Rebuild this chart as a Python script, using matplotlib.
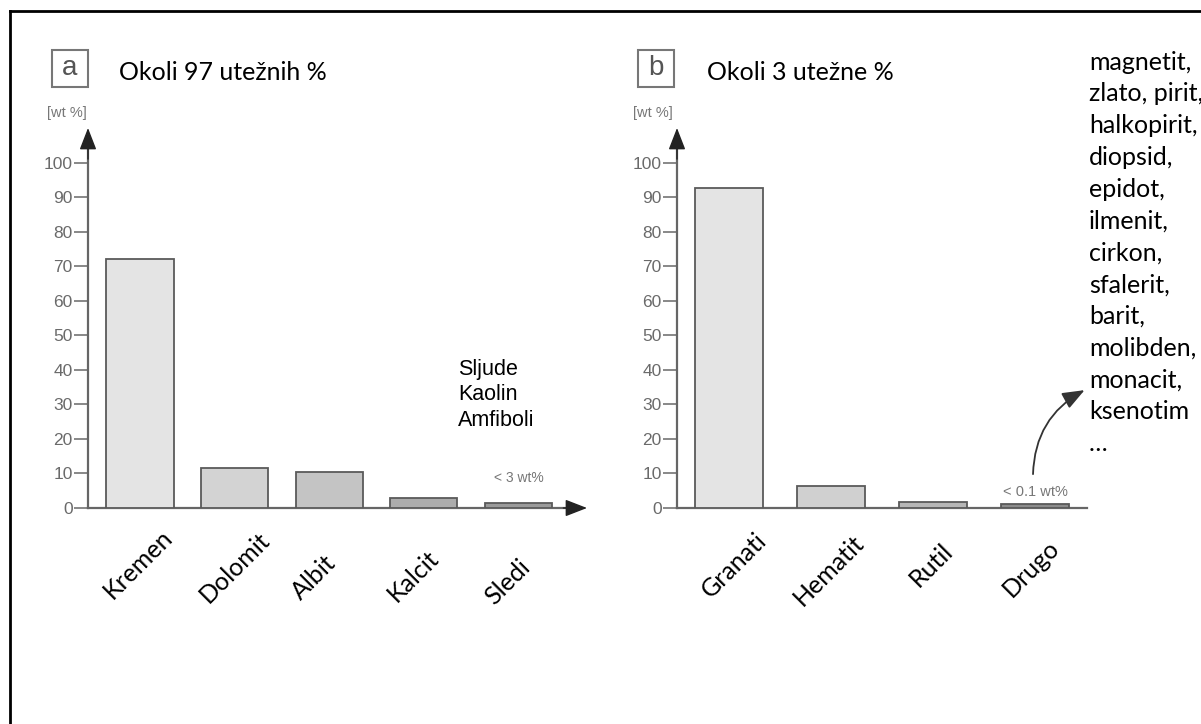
import numpy as np
import matplotlib.pyplot as plt
from matplotlib.patches import Rectangle, FancyArrowPatch
from matplotlib.lines import Line2D

W, H = 1201, 724

# panel a - about 97 wt%
minerals_a = ['Kremen', 'Dolomit', 'Albit', 'Kalcit', 'Sledi']
wt_a = [72, 11.6, 10.5, 2.9, 1.5]
colors_a = ['#e4e4e4', '#d3d3d3', '#c4c4c4', '#acacac', '#9a9a9a']
trace_a = ['Sljude', 'Kaolin', 'Amfiboli']

# panel b - about 3 wt%
minerals_b = ['Granati', 'Hematit', 'Rutil', 'Drugo']
wt_b = [92.5, 6.4, 1.7, 1.2]
colors_b = ['#e4e4e4', '#d0d0d0', '#b6b6b6', '#8c8c8c']
others_b = ['magnetit,', 'zlato, pirit,', 'halkopirit,', 'diopsid,', 'epidot,',
            'ilmenit,', 'cirkon,', 'sfalerit,', 'barit,', 'molibden,',
            'monacit,', 'ksenotim', '…']

yticks = np.arange(0, 101, 10)

# label placement (offset from bar centre, in data units)
label_off_a = [(0.22, -5.0), (0.25, -5.8), (-0.05, -12.4), (0.03, -11.0), (0.0, -13.8)]
label_off_b = [(0.25, -6.0), (0.21, -6.6), (0.08, -9.0), (0.12, -8.2)]

fig = plt.figure(figsize=(W / 100, H / 100), dpi=100)


def P(x, y):
    return x / W, 1 - y / H


def panel(px_left, px_right, x0, dx, names, values, colors, width, offs, x_arrow):
    ax = fig.add_axes([px_left / W, 1 - 508 / H, (px_right - px_left) / W, (508 - 128) / H])
    ax.set_xlim((px_left - x0) / dx, (px_right - x0) / dx)
    ax.set_ylim(0, 110)
    xl, xr = ax.get_xlim()
    ax.patch.set_visible(False)
    ax.bar(np.arange(len(values)), values, width, color=colors,
           edgecolor='#5a5a5a', linewidth=1.3, zorder=3)
    for s in ['top', 'right']:
        ax.spines[s].set_visible(False)
    ax.spines['left'].set_bounds(0, 104)
    ax.spines['left'].set_color('#666666')
    ax.spines['left'].set_linewidth(1.6)
    ax.spines['bottom'].set_color('#666666')
    ax.spines['bottom'].set_linewidth(1.6)
    head = dict(arrowstyle='-|>,head_length=0.9,head_width=0.35', mutation_scale=15,
                color='#222222', lw=1, shrinkA=0, shrinkB=0)
    if x_arrow:
        ax.spines['bottom'].set_bounds(xl, xr - 0.15)
        ax.annotate('', xy=(xr, 0), xytext=(xr - 0.25, 0), arrowprops=head,
                    annotation_clip=False)
    ax.annotate('', xy=(xl, 110), xytext=(xl, 101), arrowprops=head,
                annotation_clip=False)
    ax.set_xticks([])
    ax.set_yticks(yticks)
    ax.tick_params(axis='y', length=10, width=1.4, color='#888888',
                   labelcolor='#6a6a6a', labelsize=12.5, pad=1)
    for t in ax.get_yticklabels():
        t.set_family('Liberation Sans')
    for i, name in enumerate(names):
        ax.text(i + offs[i][0], offs[i][1], name, rotation=45, ha='right', va='top',
                rotation_mode='anchor', fontsize=18, family='Lato', color='black')
    return ax


ax_a = panel(88, 587, 140, 94.6, minerals_a, wt_a, colors_a, 0.71, label_off_a, True)
ax_b = panel(677, 1087, 729, 102, minerals_b, wt_b, colors_b, 0.67, label_off_b, False)

ax_a.text(4, 8.7, '< 3 wt%', ha='center', va='center', fontsize=10,
          family='Liberation Sans', color='#777777')
ax_b.text(3, 4.6, '< 0.1 wt%', ha='center', va='center', fontsize=10.5,
          family='Liberation Sans', color='#777777')

arr = FancyArrowPatch((2.98, 9.0), (3.51, 34.5), connectionstyle='arc3,rad=-0.3',
                      arrowstyle='-|>,head_length=0.9,head_width=0.35', mutation_scale=15,
                      color='#333333', lw=1.3, clip_on=False)
ax_b.add_patch(arr)

# panel letters and headers
for letter, bx in [('a', 52), ('b', 638)]:
    fig.add_artist(Rectangle(P(bx, 87), 36 / W, 37 / H, fill=False,
                             edgecolor='#777777', lw=1.5))
    fig.text(*P(bx + 18, 68), letter, ha='center', va='center', fontsize=20,
             family='Liberation Sans', color='#555555')
    fig.text(*P(bx + 15, 113), '[wt %]', ha='center', va='center', fontsize=10.5,
             family='Liberation Sans', color='#777777')

fig.text(*P(119, 73), 'Okoli 97 utežnih %', ha='left', va='center', fontsize=18, family='Lato')
fig.text(*P(707, 73), 'Okoli 3 utežne %', ha='left', va='center', fontsize=18, family='Lato')

fig.text(*P(458, 395), '\n'.join(trace_a), ha='left', va='center', fontsize=15.5,
         family='Liberation Sans', linespacing=1.25)

for k, line in enumerate(others_b):
    fig.text(*P(1089, 62 + 31.8 * k), line, ha='left', va='center', fontsize=18, family='Lato')

# frame around the figure
fig.add_artist(Line2D([10 / W, 10 / W], [0, 1 - 11 / H], color='black', lw=2))
fig.add_artist(Line2D([10 / W, 1], [1 - 11 / H, 1 - 11 / H], color='black', lw=2))

fig.savefig('out.png', dpi=100)
